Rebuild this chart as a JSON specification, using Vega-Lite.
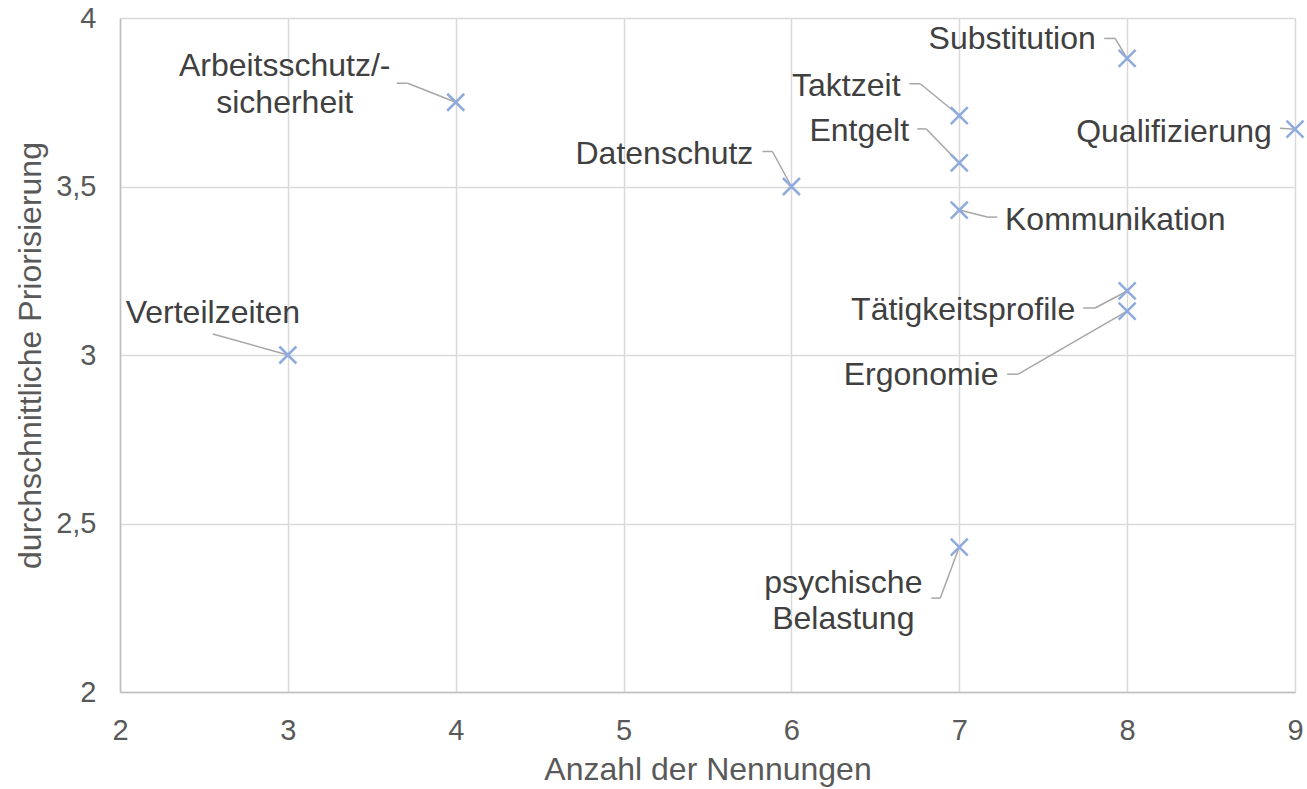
{
  "$schema": "https://vega.github.io/schema/vega-lite/v6.json",
  "width": 1175,
  "height": 674,
  "autosize": {"type": "none"},
  "padding": {"left": 120, "top": 18, "right": 12, "bottom": 97},
  "background": "#ffffff",
  "config": {
    "font": "Liberation Sans",
    "view": {"stroke": null},
    "axis": {
      "grid": true,
      "gridColor": "#d9d9d9",
      "gridWidth": 1.5,
      "domainColor": "#bfbfbf",
      "domainWidth": 1.5,
      "ticks": false,
      "tickSize": 0,
      "labelFont": "Liberation Sans",
      "labelFontSize": 29,
      "labelColor": "#595959",
      "titleFont": "Liberation Sans",
      "titleFontSize": 32,
      "titleFontWeight": "normal",
      "titleColor": "#595959"
    }
  },
  "data": {
    "values": [
      {"Thema": "Verteilzeiten", "n": 3, "p": 3.0},
      {"Thema": "Arbeitsschutz/-\nsicherheit", "n": 4, "p": 3.75},
      {"Thema": "Datenschutz", "n": 6, "p": 3.5},
      {"Thema": "Taktzeit", "n": 7, "p": 3.71},
      {"Thema": "Entgelt", "n": 7, "p": 3.57},
      {"Thema": "Kommunikation", "n": 7, "p": 3.43},
      {"Thema": "psychische\nBelastung", "n": 7, "p": 2.43},
      {"Thema": "Substitution", "n": 8, "p": 3.88},
      {"Thema": "Qualifizierung", "n": 9, "p": 3.67},
      {"Thema": "Tätigkeitsprofile", "n": 8, "p": 3.19},
      {"Thema": "Ergonomie", "n": 8, "p": 3.13}
    ]
  },
  "encoding": {
    "x": {
      "field": "n", "type": "quantitative",
      "scale": {"domain": [2, 9], "nice": false, "zero": false},
      "axis": {"values": [2, 3, 4, 5, 6, 7, 8, 9], "title": "Anzahl der Nennungen", "labelPadding": 24, "titlePadding": 9, "labelFlush": false}
    },
    "y": {
      "field": "p", "type": "quantitative",
      "scale": {"domain": [2, 4], "nice": false, "zero": false},
      "axis": {"values": [2, 2.5, 3, 3.5, 4], "title": "durchschnittliche Priorisierung", "labelPadding": 24, "titlePadding": 8, "labelFlush": false,
        "labelExpr": "replace(format(datum.value, '.1~f'), '.', ',')"}
    }
  },
  "layer": [
    {
      "transform": [{"filter": "datum.Thema === 'Verteilzeiten'"}],
      "layer": [
        {"mark": {"type": "rule", "color": "#a6a6a6", "strokeWidth": 1.5, "x2Offset": -75, "y2Offset": -21}, "encoding": {"x2": {"field": "n"}, "y2": {"field": "p"}}},
        {"mark": {"type": "text", "dx": -75, "dy": -32, "align": "center", "baseline": "alphabetic", "fontSize": 32, "color": "#404040"}, "encoding": {"text": {"field": "Thema"}}}
      ]
    },
    {
      "transform": [{"filter": "datum.n === 4"}],
      "layer": [
        {"mark": {"type": "rule", "color": "#a6a6a6", "strokeWidth": 1.5, "x2Offset": -48, "y2Offset": -19}, "encoding": {"x2": {"field": "n"}, "y2": {"field": "p"}}},
        {"mark": {"type": "rule", "color": "#a6a6a6", "strokeWidth": 1.5, "xOffset": -48, "yOffset": -19, "x2Offset": -59, "y2Offset": -19}, "encoding": {"x2": {"field": "n"}, "y2": {"field": "p"}}},
        {"mark": {"type": "text", "dx": -171, "dy": -26, "align": "center", "baseline": "alphabetic", "lineBreak": "\n", "lineHeight": 37, "fontSize": 32, "color": "#404040"}, "encoding": {"text": {"field": "Thema"}}}
      ]
    },
    {
      "transform": [{"filter": "datum.Thema === 'Datenschutz'"}],
      "layer": [
        {"mark": {"type": "rule", "color": "#a6a6a6", "strokeWidth": 1.5, "x2Offset": -19, "y2Offset": -35}, "encoding": {"x2": {"field": "n"}, "y2": {"field": "p"}}},
        {"mark": {"type": "rule", "color": "#a6a6a6", "strokeWidth": 1.5, "xOffset": -19, "yOffset": -35, "x2Offset": -29, "y2Offset": -35}, "encoding": {"x2": {"field": "n"}, "y2": {"field": "p"}}},
        {"mark": {"type": "text", "dx": -127, "dy": -23, "align": "center", "baseline": "alphabetic", "fontSize": 32, "color": "#404040"}, "encoding": {"text": {"field": "Thema"}}}
      ]
    },
    {
      "transform": [{"filter": "datum.Thema === 'Taktzeit'"}],
      "layer": [
        {"mark": {"type": "rule", "color": "#a6a6a6", "strokeWidth": 1.5, "x2Offset": -39, "y2Offset": -32}, "encoding": {"x2": {"field": "n"}, "y2": {"field": "p"}}},
        {"mark": {"type": "rule", "color": "#a6a6a6", "strokeWidth": 1.5, "xOffset": -39, "yOffset": -32, "x2Offset": -50, "y2Offset": -32}, "encoding": {"x2": {"field": "n"}, "y2": {"field": "p"}}},
        {"mark": {"type": "text", "dx": -113, "dy": -20, "align": "center", "baseline": "alphabetic", "fontSize": 32, "color": "#404040"}, "encoding": {"text": {"field": "Thema"}}}
      ]
    },
    {
      "transform": [{"filter": "datum.Thema === 'Entgelt'"}],
      "layer": [
        {"mark": {"type": "rule", "color": "#a6a6a6", "strokeWidth": 1.5, "x2Offset": -33, "y2Offset": -34}, "encoding": {"x2": {"field": "n"}, "y2": {"field": "p"}}},
        {"mark": {"type": "rule", "color": "#a6a6a6", "strokeWidth": 1.5, "xOffset": -33, "yOffset": -34, "x2Offset": -42, "y2Offset": -34}, "encoding": {"x2": {"field": "n"}, "y2": {"field": "p"}}},
        {"mark": {"type": "text", "dx": -100, "dy": -22, "align": "center", "baseline": "alphabetic", "fontSize": 32, "color": "#404040"}, "encoding": {"text": {"field": "Thema"}}}
      ]
    },
    {
      "transform": [{"filter": "datum.Thema === 'Kommunikation'"}],
      "layer": [
        {"mark": {"type": "rule", "color": "#a6a6a6", "strokeWidth": 1.5, "x2Offset": 28, "y2Offset": 7}, "encoding": {"x2": {"field": "n"}, "y2": {"field": "p"}}},
        {"mark": {"type": "rule", "color": "#a6a6a6", "strokeWidth": 1.5, "xOffset": 28, "yOffset": 7, "x2Offset": 38, "y2Offset": 7}, "encoding": {"x2": {"field": "n"}, "y2": {"field": "p"}}},
        {"mark": {"type": "text", "dx": 156, "dy": 20, "align": "center", "baseline": "alphabetic", "fontSize": 32, "color": "#404040"}, "encoding": {"text": {"field": "Thema"}}}
      ]
    },
    {
      "transform": [{"filter": "datum.p < 2.6"}],
      "layer": [
        {"mark": {"type": "rule", "color": "#a6a6a6", "strokeWidth": 1.5, "x2Offset": -19, "y2Offset": 51}, "encoding": {"x2": {"field": "n"}, "y2": {"field": "p"}}},
        {"mark": {"type": "rule", "color": "#a6a6a6", "strokeWidth": 1.5, "xOffset": -19, "yOffset": 51, "x2Offset": -28, "y2Offset": 51}, "encoding": {"x2": {"field": "n"}, "y2": {"field": "p"}}},
        {"mark": {"type": "text", "dx": -116, "dy": 46, "align": "center", "baseline": "alphabetic", "lineBreak": "\n", "lineHeight": 36, "fontSize": 32, "color": "#404040"}, "encoding": {"text": {"field": "Thema"}}}
      ]
    },
    {
      "transform": [{"filter": "datum.Thema === 'Substitution'"}],
      "layer": [
        {"mark": {"type": "rule", "color": "#a6a6a6", "strokeWidth": 1.5, "x2Offset": -12, "y2Offset": -20}, "encoding": {"x2": {"field": "n"}, "y2": {"field": "p"}}},
        {"mark": {"type": "rule", "color": "#a6a6a6", "strokeWidth": 1.5, "xOffset": -12, "yOffset": -20, "x2Offset": -23, "y2Offset": -20}, "encoding": {"x2": {"field": "n"}, "y2": {"field": "p"}}},
        {"mark": {"type": "text", "dx": -115, "dy": -9, "align": "center", "baseline": "alphabetic", "fontSize": 32, "color": "#404040"}, "encoding": {"text": {"field": "Thema"}}}
      ]
    },
    {
      "transform": [{"filter": "datum.Thema === 'Qualifizierung'"}],
      "layer": [
        {"mark": {"type": "rule", "color": "#a6a6a6", "strokeWidth": 1.5, "x2Offset": -15, "y2Offset": -1}, "encoding": {"x2": {"field": "n"}, "y2": {"field": "p"}}},
        {"mark": {"type": "text", "dx": -121, "dy": 13, "align": "center", "baseline": "alphabetic", "fontSize": 32, "color": "#404040"}, "encoding": {"text": {"field": "Thema"}}}
      ]
    },
    {
      "transform": [{"filter": "datum.Thema === 'Tätigkeitsprofile'"}],
      "layer": [
        {"mark": {"type": "rule", "color": "#a6a6a6", "strokeWidth": 1.5, "x2Offset": -32, "y2Offset": 17}, "encoding": {"x2": {"field": "n"}, "y2": {"field": "p"}}},
        {"mark": {"type": "rule", "color": "#a6a6a6", "strokeWidth": 1.5, "xOffset": -32, "yOffset": 17, "x2Offset": -44, "y2Offset": 17}, "encoding": {"x2": {"field": "n"}, "y2": {"field": "p"}}},
        {"mark": {"type": "text", "dx": -164, "dy": 29, "align": "center", "baseline": "alphabetic", "fontSize": 32, "color": "#404040"}, "encoding": {"text": {"field": "Thema"}}}
      ]
    },
    {
      "transform": [{"filter": "datum.Thema === 'Ergonomie'"}],
      "layer": [
        {"mark": {"type": "rule", "color": "#a6a6a6", "strokeWidth": 1.5, "x2Offset": -109, "y2Offset": 63}, "encoding": {"x2": {"field": "n"}, "y2": {"field": "p"}}},
        {"mark": {"type": "rule", "color": "#a6a6a6", "strokeWidth": 1.5, "xOffset": -109, "yOffset": 63, "x2Offset": -120, "y2Offset": 63}, "encoding": {"x2": {"field": "n"}, "y2": {"field": "p"}}},
        {"mark": {"type": "text", "dx": -206, "dy": 74, "align": "center", "baseline": "alphabetic", "fontSize": 32, "color": "#404040"}, "encoding": {"text": {"field": "Thema"}}}
      ]
    },
    {
      "mark": {"type": "point", "shape": "M-1,-1L1,1M-1,1L1,-1", "filled": false, "stroke": "#8faadc", "strokeWidth": 2.5, "size": 289, "opacity": 1, "clip": false}
    }
  ]
}
